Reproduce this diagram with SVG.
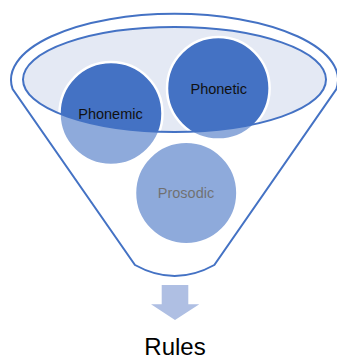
<svg xmlns="http://www.w3.org/2000/svg" width="337" height="360" viewBox="0 0 337 360">
<style>
.ln{fill:none;stroke:#4472C4;stroke-width:2}
.cir{fill:#4472C4;stroke:#FFFFFF;stroke-width:2.5}
.lbl{font-family:"Liberation Sans",Arial,sans-serif;font-size:14.5px;fill:#111111;text-anchor:middle}
</style>
<defs>
<path id="funnelShape" d="M12.6,89 A163.5,66 0 1,1 336.4,89 L214.3,265 Q174.7,287 135,265 Z"/>
</defs>
<rect width="337" height="360" fill="#FFFFFF"/>
<g id="funnel">
<use href="#funnelShape" fill="#FFFFFF"/>
<ellipse cx="174.5" cy="79.5" rx="151.5" ry="52.5" fill="#E4E9F4"/>
</g>
<g id="phonemic">
<circle class="cir" cx="111" cy="113.5" r="51.5"/>
<text class="lbl" x="110.5" y="119">Phonemic</text>
</g>
<g id="phonetic">
<circle class="cir" cx="218.3" cy="88.3" r="51.3"/>
<text class="lbl" x="218.7" y="94">Phonetic</text>
</g>
<g id="prosodic">
<circle class="cir" cx="186.2" cy="193" r="51.2"/>
<text class="lbl" x="186" y="198.3">Prosodic</text>
</g>
<g id="funnel-front">
<path d="M0,0 H337 V360 H0 Z M23,79.5 A151.5,52.5 0 1,0 326,79.5 A151.5,52.5 0 1,0 23,79.5 Z" fill="#FFFFFF" fill-opacity="0.4" fill-rule="evenodd"/>
<use href="#funnelShape" class="ln"/>
<ellipse class="ln" cx="174.5" cy="79.5" rx="151.5" ry="52.5"/>
</g>
<g id="connectors">
<path d="M161.7,285 H188.3 V304.3 H199.3 L175,320 L151,304.3 H161.7 Z" fill="#AFBFE3"/>
</g>
<g id="rules">
<text x="175" y="355" font-family="'Liberation Sans',Arial,sans-serif" font-size="24" fill="#000000" text-anchor="middle">Rules</text>
</g>
</svg>
